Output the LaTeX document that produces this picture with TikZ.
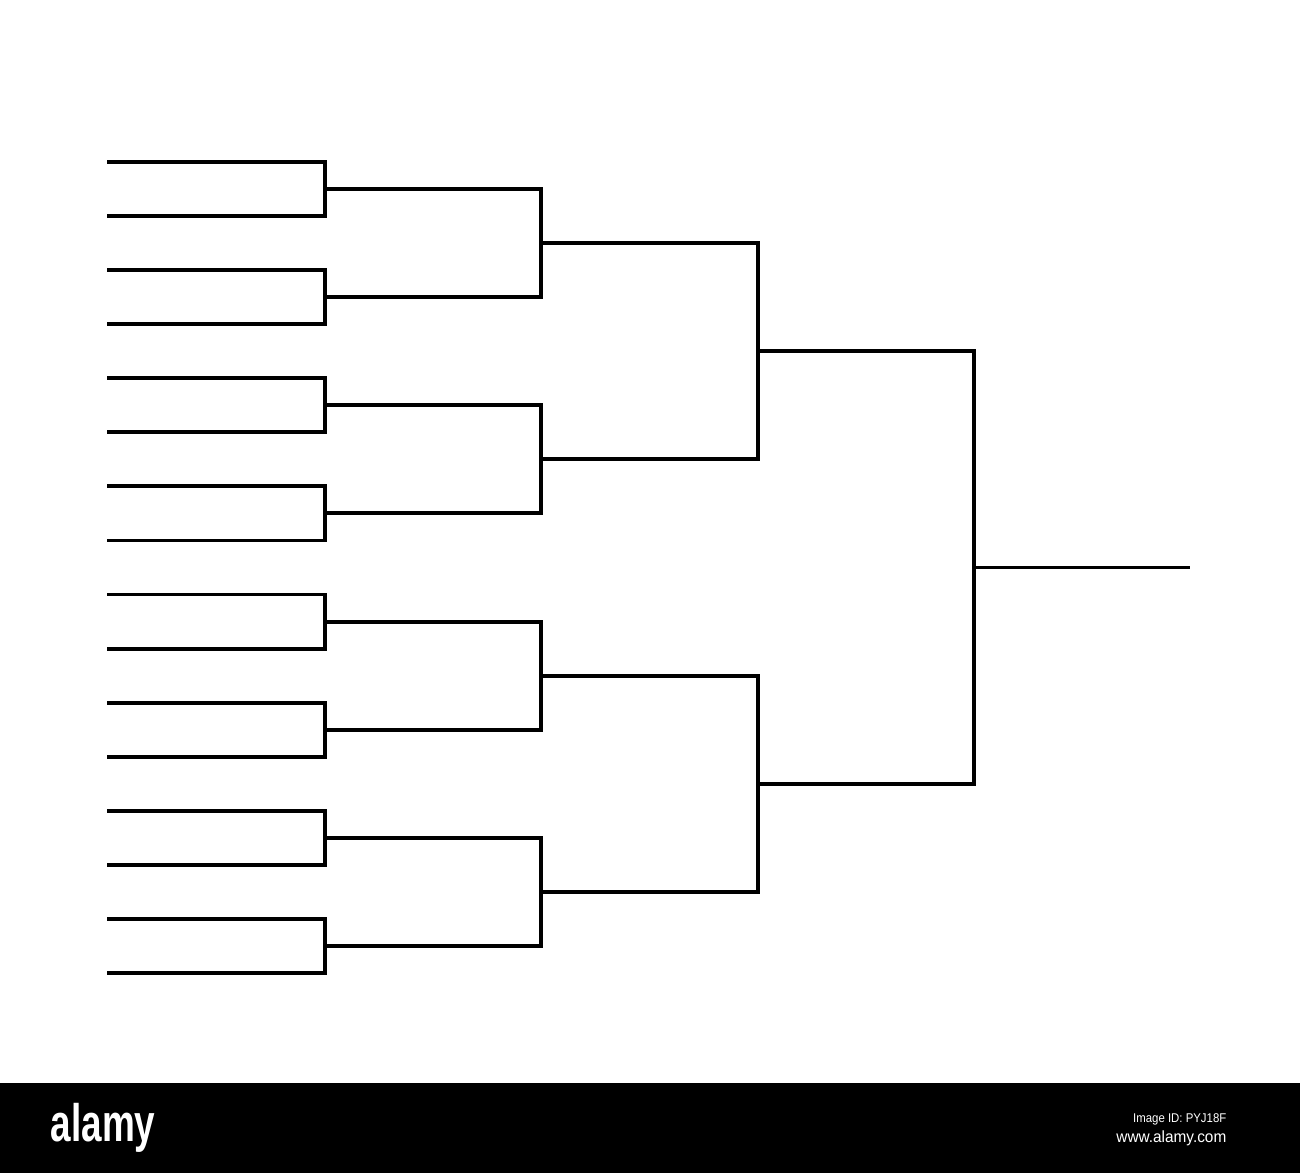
\documentclass[tikz,border=0pt]{standalone}
\usepackage{fontspec}
\setmainfont{Liberation Sans}
\begin{document}
\begin{tikzpicture}[x=0.01cm,y=-0.01cm,
  bra/.style={draw=black,line width=1.1pt,line join=miter,line cap=butt},
  fin/.style={draw=black,line width=1pt},
  wm/.style={text=white,inner sep=0pt}]
\useasboundingbox (0,0) rectangle (1300,1173);
% coordinates
\foreach \i in {0,...,15}{
  \coordinate (a\i) at (107,{162+\i*54.067});
  \coordinate (b\i) at (325,{162+\i*54.067});}
\foreach \i in {0,...,7}{
  \coordinate (c\i) at (325,{189.03+\i*108.133});
  \coordinate (d\i) at (541,{189.03+\i*108.133});}
\foreach \i in {0,...,3}{
  \coordinate (e\i) at (541,{243.1+\i*216.27});
  \coordinate (f\i) at (758,{243.1+\i*216.27});}
\foreach \i in {0,1}{
  \coordinate (g\i) at (758,{351.2+\i*432.53});
  \coordinate (h\i) at (974,{351.2+\i*432.53});}
\coordinate (w0) at (974,567.5);
\coordinate (w1) at (1190,567.5);
% brackets
\foreach \i [evaluate=\i as \j using int(2*\i), evaluate=\i as \k using int(2*\i+1)] in {0,...,7}
  \draw[bra] (a\j) -- (b\j) -- (b\k) -- (a\k);
\foreach \i [evaluate=\i as \j using int(2*\i), evaluate=\i as \k using int(2*\i+1)] in {0,...,3}
  \draw[bra] (c\j) -- (d\j) -- (d\k) -- (c\k);
\foreach \i [evaluate=\i as \j using int(2*\i), evaluate=\i as \k using int(2*\i+1)] in {0,1}
  \draw[bra] (e\j) -- (f\j) -- (f\k) -- (e\k);
\draw[bra] (g0) -- (h0) -- (h1) -- (g1);
\draw[fin] (w0) -- (w1);
% watermark bar
\fill[black] (0,1083) rectangle (1300,1173);
\node[wm,anchor=base west,font=\fontsize{15pt}{15pt}\selectfont\bfseries] (logo) at (50,1141) {\scalebox{0.7}[1]{alamy}};
\node[wm,anchor=base east,font=\fontsize{3.6pt}{3.6pt}\selectfont] (imgid) at (1227,1122) {\scalebox{0.9}[1]{Image ID: PYJ18F}};
\node[wm,anchor=base east,font=\fontsize{4.6pt}{4.6pt}\selectfont] (url) at (1227,1142) {\scalebox{0.95}[1]{www.alamy.com}};
\end{tikzpicture}
\end{document}
